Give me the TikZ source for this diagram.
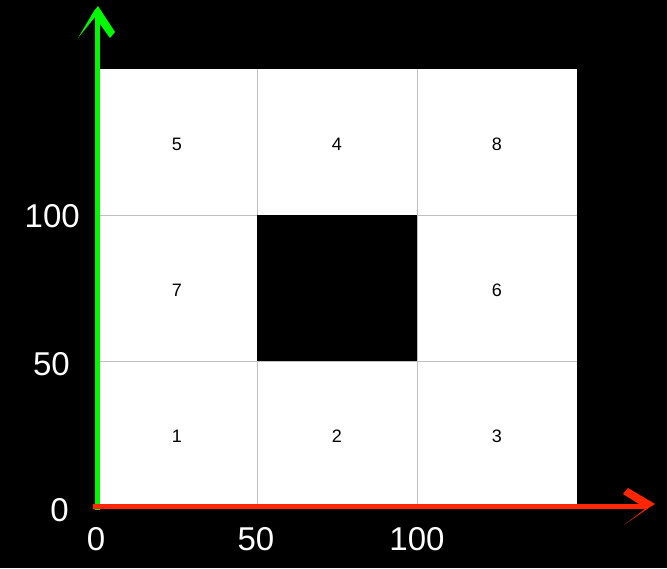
\documentclass[tikz,border=0pt]{standalone}
\usepackage{fontspec}
\setmainfont{Liberation Sans}
\definecolor{axgreen}{RGB}{0,249,0}
\definecolor{axred}{RGB}{255,38,0}
\definecolor{gridgray}{RGB}{192,192,192}
\begin{document}
\begin{tikzpicture}[x=1pt,y=-1pt,
  lbl/.style={font=\fontsize{33}{33}\selectfont, text=white, inner sep=0pt},
  num/.style={font=\fontsize{18}{18}\selectfont, text=black, inner sep=0pt},
  gridline/.style={draw=gridgray, line width=1pt},
  axis/.style={line width=5pt}]
\fill[black] (0,0) rectangle (667,568);
\useasboundingbox (0,0) rectangle (667,568);
% grid
\fill[white] (97,69) rectangle (577,507);
\draw[gridline] (257,69) -- (257,507);
\draw[gridline] (417,69) -- (417,507);
\draw[gridline] (97,215) -- (577,215);
\draw[gridline] (97,361) -- (577,361);
\fill[black] (257,215) rectangle (417,361);
% cell numbers
\node[num] (c5) at (177,144) {5};
\node[num] (c4) at (337,144) {4};
\node[num] (c8) at (497,144) {8};
\node[num] (c7) at (177,290) {7};
\node[num] (c6) at (497,290) {6};
\node[num] (c1) at (177,436) {1};
\node[num] (c2) at (337,436) {2};
\node[num] (c3) at (497,436) {3};
% axes
\coordinate (ybot) at (97.5,510);
\coordinate (ytop) at (97.5,18);
\coordinate (xleft) at (93,506.5);
\coordinate (xright) at (648,506.5);
\draw[axis, axgreen] (ybot) -- (ytop);
\fill[axgreen] (98,6) -- (115,32) -- (110,38) -- (100,24) -- (95,24) -- (95,17) -- (78,38) -- (94,11) -- cycle;
\draw[axis, axred] (xleft) -- (xright);
\fill[axred] (655,504) -- (628,488) -- (623,494) -- (639,504) -- (639,509) -- (645,509) -- (624,525) -- (650,507) -- cycle;
% axis labels
\node[lbl, anchor=east] (y100) at (80,216) {100};
\node[lbl, anchor=east] (y50) at (70,364) {50};
\node[lbl, anchor=east] (y0) at (69,510) {0};
\node[lbl] (x0) at (96,539) {0};
\node[lbl] (x50) at (256,539) {50};
\node[lbl] (x100) at (417,539) {100};
\end{tikzpicture}
\end{document}
